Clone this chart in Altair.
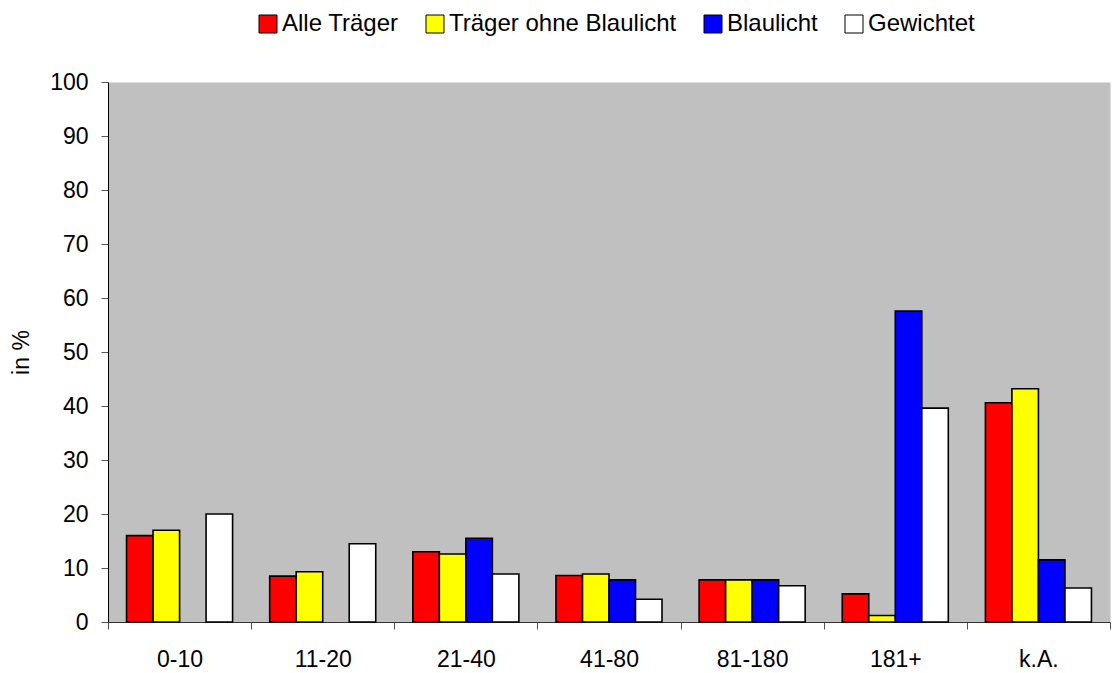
import altair as alt
import pandas as pd

categories = ["0-10", "11-20", "21-40", "41-80", "81-180", "181+", "k.A."]
series = ["Alle Träger", "Träger ohne Blaulicht", "Blaulicht", "Gewichtet"]
colors = ["#FF0000", "#FFFF00", "#0000FF", "#FFFFFF"]

alle_traeger = [16.0, 8.5, 13.0, 8.6, 7.8, 5.2, 40.6]
ohne_blaulicht = [17.0, 9.3, 12.6, 8.9, 7.8, 1.2, 43.2]
blaulicht = [None, None, 15.5, 7.8, 7.8, 57.6, 11.5]
gewichtet = [20.0, 14.5, 8.9, 4.2, 6.7, 39.6, 6.3]

rows = []
for name, vals in zip(series, [alle_traeger, ohne_blaulicht, blaulicht, gewichtet]):
    for c, v in zip(categories, vals):
        if v is not None:
            rows.append({"Kategorie": c, "Serie": name, "Wert": v})
df = pd.DataFrame(rows)

FONT = "Liberation Sans"

chart = alt.Chart(df).mark_bar(stroke="black", strokeWidth=1.6).encode(
    x=alt.X(
        "Kategorie:N",
        sort=categories,
        scale=alt.Scale(paddingInner=0, paddingOuter=0),
        axis=alt.Axis(
            title=None,
            labelAngle=0,
            tickBand="extent",
            tickSize=7,
            tickColor="#555555",
            domainColor="#333333",
            labelPadding=19,
            labelFontSize=23,
            labelFont=FONT,
            labelColor="black",
        ),
    ),
    xOffset=alt.XOffset(
        "Serie:N",
        sort=series,
        scale=alt.Scale(domain=series, paddingInner=0, paddingOuter=0.7),
    ),
    y=alt.Y(
        "Wert:Q",
        scale=alt.Scale(domain=[0, 100], nice=False),
        axis=alt.Axis(
            title="in %",
            values=list(range(0, 101, 10)),
            grid=False,
            tickSize=7,
            tickColor="#555555",
            domainColor="black",
            labelPadding=13,
            labelFontSize=23,
            labelFont=FONT,
            labelColor="black",
            titleFontSize=23,
            titleFont=FONT,
            titleFontWeight="normal",
            titleColor="black",
            titlePadding=16,
        ),
    ),
    color=alt.Color(
        "Serie:N",
        sort=series,
        scale=alt.Scale(domain=series, range=colors),
        legend=alt.Legend(
            title=None,
            orient="none",
            direction="horizontal",
            legendX=148,
            legendY=-70,
            symbolType="square",
            symbolSize=324,
            symbolStrokeColor="black",
            symbolStrokeWidth=1,
            symbolOpacity=1,
            labelFontSize=24,
            labelFont=FONT,
            labelColor="black",
            labelOffset=2,
            labelLimit=500,
            columnPadding=24,
        ),
    ),
).properties(
    width=1002,
    height=540,
    padding={"left": 2, "top": 4, "right": 0, "bottom": 0},
).configure_view(
    fill="#C0C0C0",
    stroke="transparent",
)

chart.save("out.html", embed_options={"renderer": "svg", "actions": False})
